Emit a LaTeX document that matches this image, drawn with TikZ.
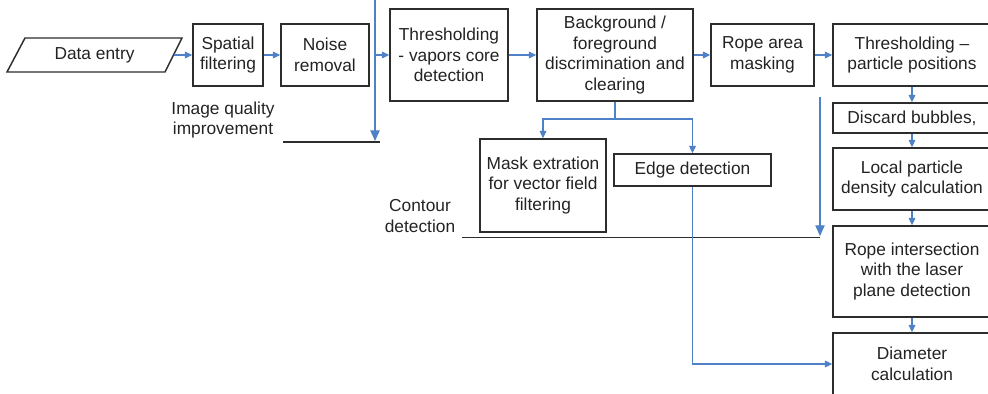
\documentclass[tikz,border=0pt]{standalone}
\usepackage{fontspec}
\setmainfont{Liberation Sans}
\usetikzlibrary{arrows.meta}
\definecolor{flowblue}{RGB}{79,129,199}
\definecolor{boxline}{RGB}{45,45,45}
\definecolor{txt}{RGB}{35,35,35}
\tikzset{
  box/.style 2 args={draw=boxline, line width=1.1pt, fill=white, align=center, inner sep=0pt,
    minimum width=#1*0.75pt, minimum height=#2*0.75pt, text=txt,
    font=\fontsize{13}{15.4}\selectfont},
  lbl/.style={align=center, inner sep=0pt, text=txt, font=\fontsize{13}{15.4}\selectfont},
  flow/.style={draw=flowblue, line width=0.9pt, -{Triangle[length=5.5pt,width=5pt]}},
  flowline/.style={draw=flowblue, line width=0.9pt},
  bigflow/.style={draw=flowblue, line width=0.9pt, -{Triangle[length=8pt,width=7pt]}},
  phase/.style={draw=boxline, line width=1.1pt}
}
\begin{document}
\begin{tikzpicture}[x=0.75pt,y=-0.75pt]
\useasboundingbox (0,0) rectangle (988,393);
\clip (0,0) rectangle (988,393);
% data entry parallelogram
\draw[boxline, line width=1.1pt] (25,38) -- (182,38) -- (165,72) -- (7,72) -- cycle;
\node[lbl, minimum width=158*0.75pt, minimum height=34*0.75pt] (din) at (94.5,55) {Data entry};
% boxes
\node[box={70}{62}] (spat) at (228,55) {Spatial\\filtering};
\node[box={88}{62}] (noise) at (325,55) {Noise\\removal};
\node[box={118}{92}] (thv) at (449,55) {Thresholding\\- vapors core\\detection};
\node[box={156}{92}] (bg) at (615,55) {Background /\\foreground\\discrimination and\\clearing};
\node[box={103}{62}] (rope) at (762.5,55) {Rope area\\masking};
\node[box={158}{62}] (thp) at (912,55) {Thresholding --\\particle positions};
\node[box={158}{30}] (disc) at (912,118) {Discard bubbles,};
\node[box={158}{62}] (local) at (912,179) {Local particle\\density calculation};
\node[box={158}{91}] (rint) at (912,271.5) {Rope intersection\\with the laser\\plane detection};
\node[box={158}{62}] (diam) at (912,364) {Diameter\\calculation};
\node[box={126}{93}] (mask) at (543,185.5) {Mask extration\\for vector field\\filtering};
\node[box={157}{32}] (edge) at (692.5,170) {Edge detection};
% phase labels
\node[lbl] (iq) at (223,120) {Image quality\\improvement};
\node[lbl] (cd) at (420,216) {Contour\\detection};
% phase separators
\coordinate (b1top) at (375,0);
\coordinate (b1bot) at (375,141);
\coordinate (b1mid) at (375,55);
\coordinate (p1a) at (283,142);
\coordinate (p1b) at (380,142);
\draw[phase] (p1a) -- (p1b);
\draw[bigflow] (b1top) -- (b1bot);
\coordinate (b2top) at (820,97);
\coordinate (b2bot) at (820,236);
\coordinate (p2a) at (462,237.5);
\coordinate (p2b) at (820,237.5);
\draw[phase] (p2a) -- (p2b);
\draw[bigflow] (b2top) -- (b2bot);
% flow arrows
\draw[flow] (din.east) -- (spat.west);
\draw[flow] (spat) -- (noise);
\draw[flow] (b1mid) -- (thv.west);
\draw[flow] (thv) -- (bg);
\draw[flow] (bg.east |- rope.west) -- (rope.west);
\draw[flow] (rope) -- (thp);
\draw[flow] (thp) -- (disc);
\draw[flow] (disc) -- (local);
\draw[flow] (local) -- (rint);
\draw[flow] (rint) -- (diam);
\coordinate (split) at (615,119);
\draw[flowline] (bg.south) -- (split);
\draw[flow] (split) -| (mask.north);
\draw[flow] (split) -| (edge.north);
\draw[flow] (edge.south) |- (diam.west);
\end{tikzpicture}
\end{document}
